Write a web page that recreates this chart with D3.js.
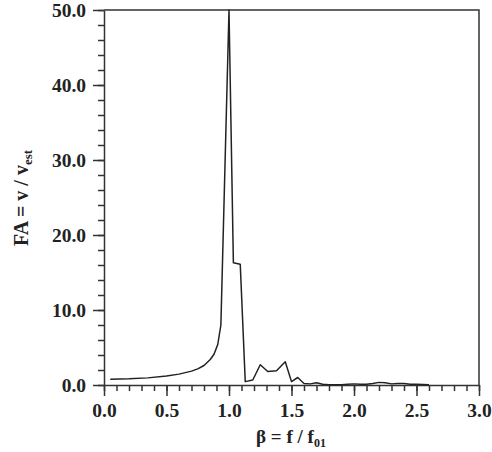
<!DOCTYPE html>
<html>
<head>
<meta charset="utf-8">
<script src="https://cdn.jsdelivr.net/npm/d3@7"></script>
<style>
    body { margin: 0; background: #fff; }
    svg text { font-family: "Liberation Serif", "Times New Roman", serif; font-weight: bold; fill: #222; }
</style>
</head>
<body>
<div id="chart"></div>
<script>
// frequency ratio beta = f / f01
const betaValues = [0.05, 0.2, 0.35, 0.5, 0.6, 0.7, 0.75, 0.8, 0.85, 0.88, 0.91, 0.935,
    1.0, 1.035, 1.09, 1.13, 1.19, 1.25, 1.31, 1.38, 1.45, 1.5, 1.55, 1.6,
    1.65, 1.7, 1.75, 1.8, 1.9, 1.95, 2.0, 2.05, 2.1, 2.15, 2.2, 2.25, 2.3, 2.35, 2.4, 2.45, 2.5, 2.55, 2.6];
// amplification factor FA = v / vest
const faValues = [0.76, 0.82, 0.95, 1.2, 1.45, 1.85, 2.15, 2.6, 3.4, 4.1, 5.4, 8.0,
    50.0, 16.3, 16.1, 0.45, 0.67, 2.7, 1.8, 1.9, 3.1, 0.45, 1.0, 0.2,
    0.15, 0.3, 0.1, 0.05, 0.05, 0.1, 0.15, 0.1, 0.1, 0.2, 0.35, 0.3, 0.15, 0.2, 0.2, 0.1, 0.1, 0.08, 0.05];

const xMajorTicks = [0, 0.5, 1.0, 1.5, 2.0, 2.5, 3.0];
const yMajorTicks = [0, 10, 20, 30, 40, 50];

const data = betaValues.map((b, i) => ({ beta: b, fa: faValues[i] }));

const WIDTH = 492, HEIGHT = 452;
const MARGIN = { top: 10, right: 13, bottom: 67, left: 104 };

const svg = d3.select('#chart').append('svg')
    .attr('width', WIDTH)
    .attr('height', HEIGHT);

const x = d3.scaleLinear()
    .domain([0, 3])
    .range([MARGIN.left, WIDTH - MARGIN.right]);

const y = d3.scaleLinear()
    .domain([0, 50])
    .range([HEIGHT - MARGIN.bottom, MARGIN.top]);

const axisColor = '#333';

// MINOR TICKS
svg.append('g')
    .attr('transform', `translate(0, ${y(0)})`)
    .call(d3.axisBottom(x).tickValues(d3.range(0, 30.5, 1).map(d => d / 10)).tickSize(6).tickFormat(''))
    .call(g => g.select('.domain').remove())
    .call(g => g.selectAll('line').attr('stroke', axisColor).attr('stroke-width', 1.5));

svg.append('g')
    .attr('transform', `translate(${x(0)}, 0)`)
    .call(d3.axisLeft(y).tickValues(d3.range(0, 51, 2)).tickSize(6).tickFormat(''))
    .call(g => g.select('.domain').remove())
    .call(g => g.selectAll('line').attr('stroke', axisColor).attr('stroke-width', 1.5));

// X AXIS
svg.append('g')
    .attr('transform', `translate(0, ${y(0)})`)
    .call(d3.axisBottom(x).tickValues(xMajorTicks).tickSize(11).tickSizeOuter(0).tickPadding(7).tickFormat(d3.format('.1f')))
    .call(g => g.select('.domain').attr('stroke', axisColor).attr('stroke-width', 1.5))
    .call(g => g.selectAll('line').attr('stroke', axisColor).attr('stroke-width', 1.5))
    .call(g => g.selectAll('text').style('font-size', '19.5px').attr('fill', '#222'));

// Y AXIS
svg.append('g')
    .attr('transform', `translate(${x(0)}, 0)`)
    .call(d3.axisLeft(y).tickValues(yMajorTicks).tickSize(11).tickSizeOuter(0).tickPadding(7).tickFormat(d3.format('.1f')))
    .call(g => g.select('.domain').attr('stroke', axisColor).attr('stroke-width', 1.5))
    .call(g => g.selectAll('line').attr('stroke', axisColor).attr('stroke-width', 1.5))
    .call(g => g.selectAll('text').style('font-size', '19.5px').attr('fill', '#222'));

// FRAME (top + right)
svg.append('path')
    .attr('d', `M${x(0)},${y(50)}H${x(3)}V${y(0)}`)
    .attr('fill', 'none')
    .attr('stroke', axisColor)
    .attr('stroke-width', 1.5);

// LINE
const line = d3.line()
    .x(d => x(d.beta))
    .y(d => y(d.fa));

svg.append('path')
    .datum(data)
    .attr('d', line)
    .attr('fill', 'none')
    .attr('stroke', '#222')
    .attr('stroke-width', 1.5)
    .attr('stroke-linejoin', 'round');

// AXIS TITLES
const xTitle = svg.append('text')
    .attr('x', 291)
    .attr('y', 443)
    .attr('text-anchor', 'middle')
    .style('font-size', '19px');
xTitle.append('tspan').text('β = f / f');
xTitle.append('tspan').text('01').attr('dy', 4).style('font-size', '12px');

const yTitle = svg.append('text')
    .attr('transform', 'translate(28, 198) rotate(-90)')
    .attr('text-anchor', 'middle')
    .style('font-size', '20px');
yTitle.append('tspan').text('FA = v / v');
yTitle.append('tspan').text('est').attr('dy', 4).style('font-size', '13px');
</script>
</body>
</html>
